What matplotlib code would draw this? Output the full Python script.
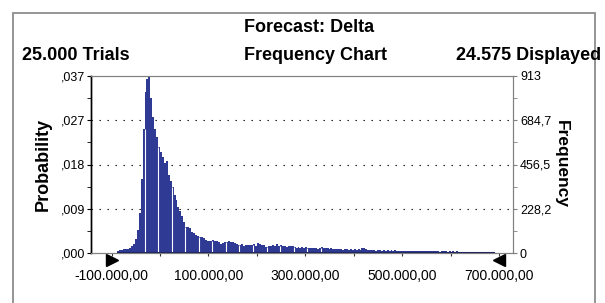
import numpy as np
import matplotlib.pyplot as plt
from matplotlib.patches import Rectangle
from matplotlib.transforms import blended_transform_factory

plt.rcParams['font.family'] = ['Liberation Sans', 'DejaVu Sans']

# forecast summary
trials = 25000
displayed = 24575
range_lo = -100000
range_hi = 700000
bin_width = 4000

# frequency per bin (bins of 4.000 from -100.000)
counts = [
    0, 0, 0, 12, 15, 18, 20, 22, 19, 28,
    34, 45, 70, 118, 205, 380, 640, 830, 900, 913,
    800, 700, 640, 600, 545, 520, 495, 462, 472, 400,
    370, 342, 300, 272, 235, 215, 190, 160, 136, 134,
    128, 110, 104, 95, 90, 84, 80, 77, 66, 64,
    62, 63, 65, 60, 62, 58, 46, 52, 58, 55,
    60, 56, 58, 52, 48, 42, 40, 44, 38, 41,
    39, 42, 40, 46, 38, 52, 44, 40, 42, 33,
    30, 36, 34, 42, 38, 44, 36, 40, 35, 38,
    33, 36, 34, 38, 32, 28, 30, 27, 29, 26,
    30, 27, 25, 28, 24, 26, 22, 25, 30, 27,
    24, 26, 22, 24, 23, 21, 20, 19, 21, 18,
    20, 19, 17, 20, 18, 19, 17, 21, 18, 24,
    26, 22, 18, 14, 13, 15, 12, 14, 13, 12,
    15, 11, 13, 12, 14, 11, 13, 12, 10, 11,
    9, 12, 10, 9, 11, 10, 8, 11, 10, 9,
    12, 10, 8, 9, 11, 10, 8, 9, 10, 7,
    9, 8, 10, 7, 8, 6, 9, 7, 8, 6,
    5, 6, 0, 5, 4, 6, 0, 4, 5, 0,
    3, 4, 0, 0, 4, 5, 3, 4, 0, 0,
]

x_labels = [-100000, 100000, 300000, 500000, 700000]


def eu(v, dec=2):
    s = f"{v:,.{dec}f}"
    return s.replace(',', 'X').replace('.', ',').replace('X', '.')


def trunc(v, dec):
    f = 10 ** dec
    return int(v * f) / f


bar_color = '#2e3a94'
edges = range_lo + bin_width * np.arange(len(counts))

fig = plt.figure(figsize=(6.05, 3.03), dpi=100)
ax = fig.add_axes([91 / 605, 50 / 303, 422 / 605, 177 / 303])

ymax = max(counts)
fticks = np.linspace(0, ymax, 5)

ax.bar(edges, counts, width=bin_width, align='edge', color=bar_color,
       linewidth=0, zorder=2)
nz = [e for e, c in zip(edges, counts) if c > 0]
ax.hlines(0, nz[0], nz[-1] + bin_width, color='#1b2260', lw=1.5, zorder=3)

# the light seams the original renderer leaves between bar groups
for k in range(17, 110, 7):
    ax.vlines(edges[k], 0, min(counts[k - 1], counts[k]), color='white',
              lw=0.8, zorder=2.5)

for g in fticks[1:-1]:
    ax.axhline(g, color='black', lw=0.8, ls=(0, (1.2, 6)), zorder=1)

ax.set_xlim(-142600, 729000)
ax.set_ylim(0, ymax)

ax.set_xticks(np.arange(-100000, 700001, 100000))
ax.set_xticklabels([eu(v) if v in x_labels else '' for v in
                    np.arange(-100000, 700001, 100000)], fontsize=10)
ax.tick_params(axis='x', length=2.5, pad=9, color='#333333')

ax.set_yticks(fticks)
ax.set_yticks((fticks[:-1] + fticks[1:]) / 2, minor=True)
ax.set_yticklabels([eu(trunc(v / displayed, 3), 3)[1:] if v > 0 else ',000'
                    for v in fticks], fontsize=9)
ax.tick_params(axis='y', which='both', length=3, pad=1)

ax2 = ax.twinx()
ax2.set_ylim(0, ymax)
ax2.set_yticks(fticks)
ax2.set_yticks((fticks[:-1] + fticks[1:]) / 2, minor=True)
ax2.set_yticklabels(['0'] + [eu(trunc(v, 1), 1) for v in fticks[1:-1]]
                    + [str(int(ymax))], fontsize=9)
ax2.tick_params(axis='y', which='both', length=3, pad=2, color='#808080')

for a in (ax, ax2):
    for s in ('top', 'right', 'bottom'):
        a.spines[s].set_color('#808080')
    a.spines['left'].set_color('black')
    a.spines['left'].set_linewidth(1)

# display range grabbers
tr = blended_transform_factory(ax.transData, ax.transAxes)
ax.plot([range_lo], [-0.04], marker='>', ms=9, color='black',
        transform=tr, clip_on=False)
ax.plot([range_hi], [-0.04], marker='<', ms=9, color='black',
        transform=tr, clip_on=False)

ax.set_ylabel('Probability', fontsize=13, weight='bold', labelpad=7)
ax2.set_ylabel('Frequency', fontsize=12.5, weight='bold', rotation=-90,
               labelpad=13)

fig.patches.append(Rectangle((13 / 605, -0.05), 582 / 605, 1 - 13 / 303 + 0.05,
                             transform=fig.transFigure, fill=False,
                             ec='#8c8c8c', lw=1.3))

fig.text(244 / 605, 1 - 27 / 303, 'Forecast: Delta', fontsize=13,
         weight='bold', va='center')
fig.text(22 / 605, 1 - 55 / 303, eu(trials, 0) + ' Trials', fontsize=13,
         weight='bold', va='center')
fig.text(244 / 605, 1 - 55 / 303, 'Frequency Chart', fontsize=13,
         weight='bold', va='center')
fig.text(601 / 605, 1 - 55 / 303, eu(displayed, 0) + ' Displayed',
         fontsize=13, weight='bold', va='center', ha='right')

fig.savefig('out.png', dpi=100)
